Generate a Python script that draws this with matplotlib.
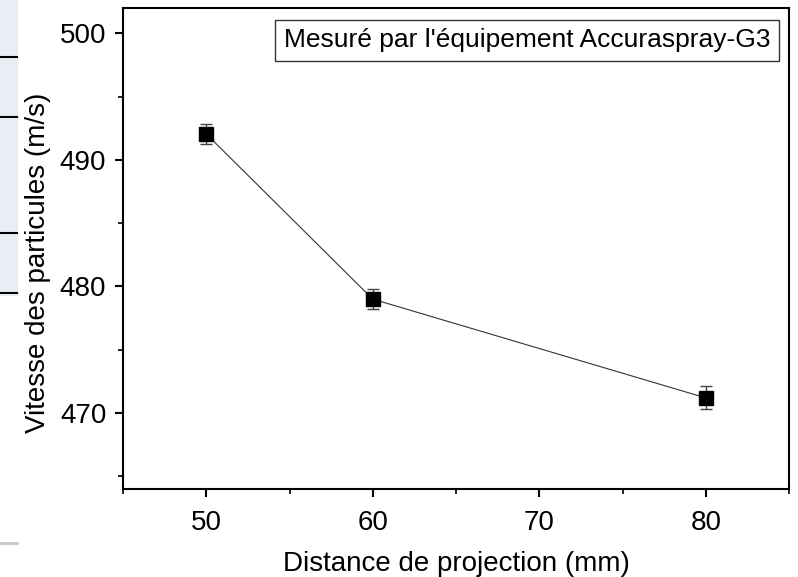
import matplotlib.pyplot as plt
from matplotlib.patches import Rectangle
from matplotlib.lines import Line2D

# data
distance = [50, 60, 80]
vitesse = [492.05, 479.0, 471.2]
erreur = [0.8, 0.8, 0.9]

plt.rcParams['font.family'] = ['Liberation Sans', 'DejaVu Sans']

fig = plt.figure(figsize=(7.98, 5.77), dpi=100)

# screenshot strip on the left edge
fig.patches.append(Rectangle((0, 1 - 295 / 577), 17 / 798, 295 / 577,
                             transform=fig.transFigure, color='#e9edf4', zorder=0))
for yy in [57, 117, 233, 293]:
    fig.lines.append(Line2D([0, 17 / 798], [1 - yy / 577] * 2, transform=fig.transFigure,
                            color='black', lw=1.5))
fig.lines.append(Line2D([0, 17 / 798], [1 - 543 / 577] * 2, transform=fig.transFigure,
                        color='#c8c8c8', lw=2))

ax = fig.add_axes([123 / 798, 88 / 577, 666 / 798, 481 / 577])

ax.plot(distance, vitesse, color='#333333', lw=0.8, zorder=2)
ax.errorbar(distance, vitesse, yerr=erreur, fmt='none', ecolor='#444444',
            elinewidth=1, capsize=4.5, capthick=1, zorder=3)
ax.plot(distance, vitesse, ls='none', marker='s', ms=10, color='black', zorder=4)

ax.set_xlim(45, 85)
ax.set_ylim(464, 502)
ax.set_xticks([50, 60, 70, 80])
ax.set_xticks([45, 55, 65, 75, 85], minor=True)
ax.set_yticks([470, 480, 490, 500])
ax.set_yticks([465, 475, 485, 495], minor=True)

for s in ax.spines.values():
    s.set_linewidth(1.5)
ax.tick_params(which='major', direction='out', length=6, width=1.5, labelsize=20, pad=6)
ax.tick_params(axis='x', which='major', pad=9)
ax.tick_params(which='minor', direction='out', length=3.5, width=1.2)

ax.set_xlabel('Distance de projection (mm)', fontsize=20, labelpad=11)
ax.set_ylabel('Vitesse des particules (m/s)', fontsize=20)
ax.yaxis.set_label_coords(-0.108, 0.47)

ax.text(0.6065, 0.933, "Mesuré par l'équipement Accuraspray-G3", transform=ax.transAxes,
        ha='center', va='center', fontsize=19,
        bbox=dict(boxstyle='square,pad=0.32', fc='white', ec='#333333', lw=1))

fig.savefig('out.png', dpi=100)
